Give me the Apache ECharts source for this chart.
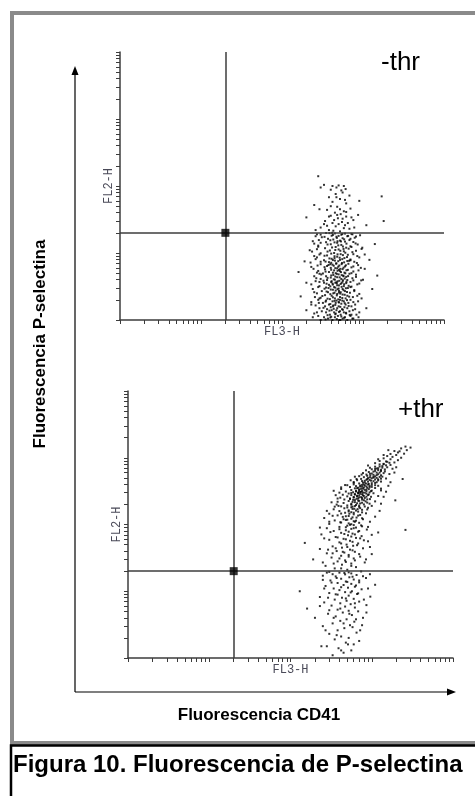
<!DOCTYPE html>
<html><head><meta charset="utf-8">
<script src="https://cdn.jsdelivr.net/npm/echarts@6/dist/echarts.min.js"></script>
<style>html,body{margin:0;padding:0;background:#fff}#c{width:475px;height:796px}</style>
</head><body><div id="c"></div>
<script>
// ---- data (fluorescence in arbitrary log units) ----
const panelLabels = ['-thr', '+thr'];
const axisNames = ['FL3-H', 'FL2-H'];
const outerLabels = ['Fluorescencia CD41', 'Fluorescencia P-selectina'];
const caption = 'Figura 10. Fluorescencia de P-selectina';
const tickValues = [1,2,3,4,5,6,7,8,9,10,20,30,40,50,60,70,80,90,100,200,300,400,500,600,700,800,900,1000,2000,3000,4000,5000,6000,7000,8000,9000,10000];
const gateNoThr = [[20, 20]];
const gateThr = [[20, 20]];

const eventsNoThr = [
[300,1.0],[420,1.0],[510,1.0],[640,1.0],[370,1.05],[560,1.05],[760,1.05],[450,1.1],[330,1.1],[600,1.1],[280,1.15],[490,1.15],[700,1.15],[390,1.2],[530,1.2],[830,1.2],[250,1.25],[460,1.25],[620,1.25],[350,1.3],[580,1.3],[440,1.3],[900,1.3],[310,1.35],[520,1.35],[680,1.35],[410,1.4],[470,1.4],[750,1.4],[200,1.4],[360,1.45],[550,1.45],[640,1.5],[290,1.5],[480,1.5],[1100,1.5],[400,1.55],[590,1.55],[720,1.6],[340,1.6],[500,1.6],[430,1.65],[260,1.65],[610,1.7],[800,1.7],[380,1.7],[540,1.75],[460,1.8],[320,1.8],[660,1.8],[230,1.85],[500,1.85],[420,1.9],[580,1.9],[870,1.9],[350,1.95],[470,1.95],[700,2.0],[280,2.0],[520,2.0],
[390,2.05],[610,2.1],[450,2.1],[300,2.15],[750,2.2],[520,2.2],[170,2.25],[410,2.3],[640,2.3],[340,2.35],[560,2.4],[480,2.45],[900,2.45],[270,2.5],[430,2.5],[690,2.55],[370,2.6],[530,2.6],[600,2.7],[310,2.7],[460,2.75],[780,2.8],[400,2.85],[560,2.9],[240,2.9],[1300,2.9],[500,2.95],[650,3.0],[350,3.05],[440,3.1],[720,3.15],[290,3.2],[580,3.2],[480,3.3],[380,3.35],[850,3.4],[530,3.45],[420,3.5],[620,3.55],[200,3.6],[330,3.6],[470,3.65],[700,3.7],[560,3.75],[260,3.8],[410,3.8],[510,3.85],[950,3.9],[360,3.95],[640,3.95],[450,4.0],
[300,4.1],[540,4.1],[740,4.2],[400,4.3],[480,4.35],[620,4.4],[250,4.5],[350,4.5],[570,4.6],[1500,4.6],[430,4.7],[820,4.75],[500,4.8],[680,4.9],[320,4.95],[460,5.0],[590,5.1],[380,5.2],[160,5.2],[760,5.3],[520,5.35],[280,5.4],[440,5.5],[650,5.6],[340,5.7],[560,5.75],[1050,5.8],[480,5.9],[400,6.0],[720,6.1],[230,6.2],[600,6.3],[360,6.4],[510,6.5],[870,6.6],[420,6.7],[300,6.8],[660,6.9],[470,7.0],[550,7.1],[380,7.3],[780,7.4],[190,7.5],[640,7.6],[450,7.7],[330,7.8],[520,7.9],[1200,7.9],[700,8.0],
[410,8.2],[590,8.4],[270,8.6],[480,8.8],[850,9.0],[360,9.2],[650,9.4],[530,9.6],[300,9.9],[440,10],[740,10.3],[580,10.6],[390,10.9],[220,11],[500,11.3],[960,11.5],[340,11.8],[620,12],[460,12.3],[700,12.6],[280,12.9],[540,13.2],[400,13.5],[1400,13.6],[810,13.9],[480,14.2],[350,14.5],[600,14.8],[240,15],[520,15.3],[680,15.6],[430,15.9],
[370,16.3],[560,16.6],[790,16.9],[310,17.2],[470,17.5],[640,17.8],[410,18.1],[920,18.4],[540,18.7],[270,19],[720,19.3],[450,19.6],[350,19.9],[600,19.5],[500,18],
[520,21],[380,22],[680,23],[300,24],[460,25],[600,26],[1100,26],[420,28],[550,29],[340,30],[760,31],[490,33],[200,34],[620,35],[400,36],[870,37],[530,38],[450,40],[1800,30],[330,27],
[580,42],[360,44],[700,46],[480,49],[250,52],[620,55],[420,58],[900,60],[520,64],[380,68],[680,72],[460,76],[1700,70],[560,80],
[330,104],[420,100],[500,102],[580,100],[610,90],[470,95],[300,95],[280,140],[540,86],[400,88],
[345,1.02],[475,1.03],[585,1.08],[405,1.12],[540,1.13],[365,1.18],[455,1.22],[615,1.28],[505,1.32],[385,1.38],[565,1.42],[435,1.47],[325,1.52],[525,1.57],[665,1.62],[455,1.68],[395,1.73],[595,1.78],[505,1.83],[345,1.88],[445,1.93],[635,1.98],
[495,2.03],[365,2.08],[555,2.13],[425,2.18],[675,2.23],[315,2.28],[475,2.33],[595,2.38],[395,2.43],[525,2.48],[445,2.55],[635,2.62],[355,2.66],[505,2.72],[575,2.78],[425,2.83],[485,2.88],[335,2.93],[615,2.98],[455,3.04],[545,3.12],[395,3.18],[665,3.24],[505,3.28],[425,3.38],[585,3.42],[355,3.48],[475,3.53],[545,3.58],[405,3.68],[625,3.72],[485,3.78],[325,3.86],[565,3.92],
[435,4.05],[595,4.15],[365,4.25],[515,4.33],[455,4.45],[655,4.52],[405,4.62],[545,4.68],[305,4.78],[475,4.88],[605,4.98],[425,5.08],[535,5.18],[345,5.28],[485,5.42],[625,5.52],[405,5.62],[525,5.8],[455,5.95],[575,6.05],[335,6.15],[495,6.25],[435,6.45],[615,6.55],[375,6.62],[545,6.82],[465,6.95],[405,7.15],[585,7.25],[345,7.45],[495,7.55],[675,7.65],[425,7.85],[555,8.1],
[385,8.3],[515,8.5],[635,8.7],[445,8.95],[335,9.1],[565,9.3],[485,9.55],[405,9.8],[605,10.1],[365,10.5],[525,10.8],[455,11.1],[665,11.6],[415,12.1],[565,12.5],[495,13],[365,13.4],[625,13.8],[445,14.4],[535,14.9],[395,15.5],[585,16],[475,16.8],[335,17.4],[655,18],[425,18.6],[555,19.2],[385,19.8],
[525,1.0],[395,1.09],[685,1.19],[425,1.6],[555,1.95],[505,2.57],[375,3.0],[455,3.6],[575,4.5],[505,5.6],[395,6.8],[445,8.4],[575,11.5],[485,15],[415,20],
[430,21.5],[580,23.5],[360,25.5],[500,27],[650,28],[440,31],[560,32.5],[380,35],[480,37],[620,41],[520,45],[400,50],[600,62],[470,68],
[240,1.1],[270,1.3],[230,1.7],[290,2.1],[250,2.6],[280,3.1],[230,3.4],[265,4.2],[290,4.9],[245,5.8],[275,6.5],[225,7.2],[260,8.1],[290,9.5],[235,10.5],[270,11.4],[250,13.8],[285,15.6],[260,17.8],[300,18.8],[285,1.8],[255,2.2],[290,3.7],[270,5.1],[300,7.4],[250,9.0],[280,12.4],[300,14.2],
[720,1.2],[800,1.45],[760,1.85],[850,2.3],[780,2.7],[700,3.1],[900,3.5],[760,3.9],[820,4.4],[720,5.0],[880,5.5],[760,6.3],[840,7.1],[700,7.8],[900,8.6],[760,9.6],[820,10.8],[720,12.3],[860,13.4],[760,14.6],[700,16.3],[820,17.6],[740,19],[960,2.1],[1000,4.0],[940,6.0],[1050,9.5],[980,12],[740,1.05],[880,1.1],
[260,22],[780,24],[720,34],[290,45]
];

const eventsThr = [
[330,1.1],[450,1.2],[560,1.3],[390,1.4],[280,1.5],[600,1.6],[480,1.7],[350,1.9],[520,2.0],[420,2.1],[300,2.3],[650,2.4],[380,2.6],[720,2.6],[460,2.8],[250,3.0],[540,3.1],[330,3.3],[610,3.5],[410,3.6],[490,3.8],[200,4.0],[780,4.0],[360,4.2],[570,4.4],[290,4.6],[440,4.8],[680,5.0],[520,5.1],[380,5.3],[160,5.5],[620,5.7],[470,5.9],[320,6.1],[860,6.2],[550,6.4],[410,6.6],[260,6.8],[700,7.0],[490,7.2],[350,7.5],[600,7.7],[430,8.0],[230,8.2],[960,8.3],[520,8.6],[380,8.9],[660,9.1],[300,9.4],[470,9.7],[570,10],[130,10],[400,10.4],[750,10.7],[340,11],[510,11.3],[620,11.7],[270,12],[450,12.4],[1100,12.5],[560,12.9],[380,13.3],[700,13.6],[480,14],[310,14.5],[600,15],[420,15.4],[850,15.8],[530,16.2],[360,16.7],[250,17.1],[650,17.5],[470,17.9],[560,18.5],[400,19],[300,19.5],[740,19.8],
[500,21],[350,22],[640,23],[270,24],[430,25],[560,26],[820,27],[380,28],[470,29],[190,30],[600,31],[320,32],[720,33],[420,34],[520,35],[1000,36],[280,37],[460,38],[620,39],[370,40],[540,42],[230,43],[780,44],[430,45],[330,47],[590,48],[490,50],[680,52],[150,53],[400,54],[900,56],[540,57],[300,59],[450,61],[640,63],[360,65],[750,67],[510,69],[240,71],[580,73],[420,75],[1200,76],[680,78],[340,80],[480,82],[870,84],[560,86],[280,88],[640,90],[400,92],[760,94],[500,96],[600,98],[2600,83],[230,90],
[300,102],[520,104],[700,106],[410,108],[950,110],[600,112],[350,115],[480,117],[780,120],[560,122],[260,125],[650,127],[440,130],[1100,131],[520,134],[380,137],[720,139],[600,142],[300,145],[850,147],[470,150],[560,153],[680,156],[400,159],[1250,160],[520,163],[760,166],[340,169],[610,172],[460,175],[900,178],[560,181],[700,184],[420,187],[1000,190],[500,193],[640,196],[370,199],[800,200],[580,185],[530,145],[450,120],[620,110],[670,170],[390,190],
[560,204],[720,207],[450,210],[880,213],[620,216],[380,219],[1100,222],[520,225],[680,228],[800,231],[590,234],[460,237],[950,240],[650,243],[1950,230],[540,246],[760,249],[410,252],[700,255],[600,258],[860,261],[500,264],[1200,267],[660,270],[780,273],[560,276],[440,279],[920,282],[620,285],[720,288],[520,291],[1050,294],[680,297],[820,300],[590,304],[740,308],[480,312],[980,316],[640,320],[1300,324],[560,328],[860,332],[700,336],[420,340],[780,344],[620,348],[1100,352],[680,356],[940,360],[540,364],[760,368],[860,372],[640,376],[1200,380],[720,384],[500,388],[1000,392],[800,396],[600,399],[690,310],
[920,405],[700,412],[1100,419],[820,426],[600,433],[1300,440],[760,447],[980,454],[660,461],[860,468],[1200,475],[740,482],[1500,489],[900,496],[1050,503],[800,512],[1350,521],[700,530],[960,540],[1150,550],[860,560],[1650,570],[1000,580],[780,590],[1250,600],[920,612],[1450,624],[1100,636],[850,648],[1300,660],[1000,672],[1800,684],[1200,696],[950,708],[1550,720],[1100,735],[1350,750],[900,765],[1700,780],[1250,795],[1050,520],[1150,690],[2400,480],[550,460],[620,520],
[1400,810],[1100,830],[1900,850],[1550,870],[1250,895],[2100,920],[1700,950],[1400,980],[2300,1000],[1800,1030],[1550,1060],[2000,1100],[1700,1140],[2500,1150],[2100,1200],[1900,1260],[2700,1300],[2300,1380],[3000,1420],[2600,1470],
[420,1.3],[510,1.6],[370,2.2],[580,2.9],[450,3.3],[340,4.0],[530,4.6],[410,5.5],[620,6.6],[480,7.8],[360,9.0],[550,9.6],[420,11.5],[640,12.2],[500,13.8],[370,15.8],[580,16.5],[460,18.8],[520,19.2],[330,18],[700,14.5],[290,8],[640,3.8],[230,6],
[420,22],[560,24],[340,26],[480,27.5],[620,29],[400,31],[520,33],[700,36],[440,39],[580,41],[360,44],[500,46],[660,49],[420,52],[580,55],[480,60],[720,62],[380,64],[560,66],[620,71],[460,72],[520,78],[700,80],[400,85],[600,88],[480,91],[740,97],[540,99],
[560,101],[420,107],[640,114],[500,118],[760,124],[580,128],[480,133],[680,136],[600,150],[420,146],[760,152],[520,157],[640,162],[880,168],[580,171],[720,176],[500,180],[820,186],[620,189],[700,192],[560,198],[940,205],[660,208],[760,212],[580,218],[840,222],[700,226],[620,232],[760,236],[880,238],[540,241],[680,245],[820,250],[600,253],[740,257],[980,260],[660,264],[800,268],[700,272],[900,276],[620,281],[760,284],[860,290],[680,294],[560,296],[780,300],[940,303],[720,306],[640,312],[860,314],[760,318],[1000,322],[700,326],[820,330],[920,338],[740,342],[660,350],[880,354],[800,358],[1000,366],[720,370],[940,378],[820,382],[1100,388],[760,392],[900,398],
[850,410],[1000,416],[780,422],[1150,430],[900,438],[1050,446],[820,452],[1200,458],[940,465],[1100,472],[880,479],[1300,486],[1000,493],[1150,500],[950,508],[1250,516],[1100,526],[880,536],[1300,546],[1050,556],[1200,566],[950,576],[1400,588],[1150,598],[1050,620],[1300,632],[1200,654],[1450,668],[1100,680],[1350,710],[1250,740],[1500,770],[1400,800],[1650,840],[1500,880],
[300,110],[330,135],[280,160],[350,185],[320,215],[380,245],[360,275],[400,300],[340,320],[420,360],[470,390],[1300,205],[1400,260],[1500,310],[1300,345],[1600,380],[1700,430],[600,420],[650,480],[750,560],[1900,600],[2000,720],[1400,1100],[1200,950],[1600,1300],[2200,1250],
[270,2.6],[760,3.1],[300,5.2],[800,7.5],[260,11],[900,11],[320,13.5],[780,16.8],[250,14.8],[950,18],[280,19],[860,4.8],[680,9.3],[240,1.5],[700,1.8],
[250,27],[850,30],[290,42],[950,46],[260,62],[1000,70],[310,77],[900,92],[330,37],[800,58]
];

// ---- chart ----
const axisColor = '#3c3c3c';
const nameStyle = {fontFamily: 'Liberation Mono', fontSize: 12, color: '#4a4a58'};
function mkAxis(gi, name, gap) {
  return {
    type: 'log', logBase: 10, gridIndex: gi, min: 1, max: 10000,
    name: name, nameLocation: 'middle', nameGap: gap, nameTextStyle: nameStyle,
    axisLine: {show: true, lineStyle: {color: axisColor, width: 1.5}},
    axisTick: {show: true, length: 4, customValues: tickValues, lineStyle: {color: axisColor, width: 1}},
    minorTick: {show: false},
    axisLabel: {show: false},
    splitLine: {show: false}
  };
}
function gateLines() {
  return {
    silent: true, symbol: ['none', 'none'], animation: false,
    label: {show: false},
    lineStyle: {color: axisColor, width: 1.5, type: 'solid'},
    data: [{xAxis: 20}, {yAxis: 20}]
  };
}
const chart = echarts.init(document.getElementById('c'));
chart.setOption({
  animation: false,
  backgroundColor: '#fff',
  grid: [
    {left: 120, top: 52, width: 324, height: 268},
    {left: 128, top: 391, width: 325, height: 267}
  ],
  xAxis: [mkAxis(0, axisNames[0], 6), mkAxis(1, axisNames[0], 6)],
  yAxis: [mkAxis(0, axisNames[1], 5), mkAxis(1, axisNames[1], 5)],
  series: [
    {type: 'scatter', xAxisIndex: 0, yAxisIndex: 0, data: eventsNoThr, symbol: 'rect', symbolSize: 2,
     itemStyle: {color: '#000'}, markLine: gateLines(), silent: true},
    {type: 'scatter', xAxisIndex: 0, yAxisIndex: 0, data: gateNoThr, symbol: 'rect', symbolSize: 8,
     itemStyle: {color: '#000'}, z: 5, silent: true},
    {type: 'scatter', xAxisIndex: 1, yAxisIndex: 1, data: eventsThr, symbol: 'rect', symbolSize: 2,
     itemStyle: {color: '#000'}, markLine: gateLines(), silent: true},
    {type: 'scatter', xAxisIndex: 1, yAxisIndex: 1, data: gateThr, symbol: 'rect', symbolSize: 8,
     itemStyle: {color: '#000'}, z: 5, silent: true}
  ],
  graphic: [
    {type: 'rect', z: -1, shape: {x: 12, y: 13, width: 475, height: 730}, style: {fill: 'none', stroke: '#8a8a8a', lineWidth: 4}},
    {type: 'rect', z: 10, shape: {x: 11, y: 745.5, width: 475, height: 60}, style: {fill: '#fff', stroke: '#000', lineWidth: 2.5}},
    {type: 'text', z: 11, style: {text: caption, x: 13, y: 765, verticalAlign: 'middle', font: 'bold 24px "Liberation Sans", Arial, sans-serif', fill: '#000'}},
    {type: 'line', shape: {x1: 75, y1: 692, x2: 75, y2: 74}, style: {stroke: '#000', lineWidth: 1.2}},
    {type: 'polygon', shape: {points: [[75, 66], [71.5, 75], [78.5, 75]]}, style: {fill: '#000'}},
    {type: 'line', shape: {x1: 75, y1: 692, x2: 448, y2: 692}, style: {stroke: '#000', lineWidth: 1.2}},
    {type: 'polygon', shape: {points: [[456, 692], [447, 688.5], [447, 695.5]]}, style: {fill: '#000'}},
    {type: 'text', style: {text: outerLabels[0], x: 259, y: 715, align: 'center', verticalAlign: 'middle', font: 'bold 17px "Liberation Sans", Arial, sans-serif', fill: '#000'}},
    {type: 'text', rotation: Math.PI / 2, x: 40, y: 344, style: {text: outerLabels[1], x: 0, y: 0, align: 'center', verticalAlign: 'middle', font: 'bold 17px "Liberation Sans", Arial, sans-serif', fill: '#000'}},
    {type: 'text', style: {text: panelLabels[0], x: 381, y: 63, verticalAlign: 'middle', font: '26px "Liberation Sans", Arial, sans-serif', fill: '#000'}},
    {type: 'text', style: {text: panelLabels[1], x: 398, y: 410, verticalAlign: 'middle', font: '26px "Liberation Sans", Arial, sans-serif', fill: '#000'}}
  ]
});
</script>
</body></html>
